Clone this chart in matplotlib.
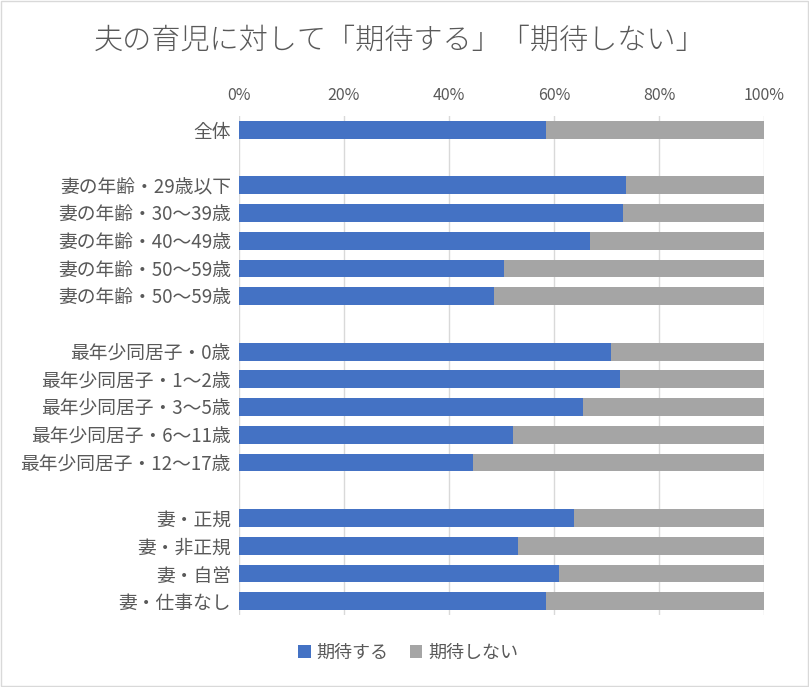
import matplotlib
matplotlib.use("Agg")
import matplotlib.pyplot as plt
import numpy as np

plt.rcParams['font.family'] = ['Noto Sans CJK JP', 'DejaVu Sans']

# カテゴリ (空白行は区切り)
categories = ['全体', '',
              '妻の年齢・29歳以下', '妻の年齢・30～39歳', '妻の年齢・40～49歳',
              '妻の年齢・50～59歳', '妻の年齢・50～59歳', '',
              '最年少同居子・0歳', '最年少同居子・1～2歳', '最年少同居子・3～5歳',
              '最年少同居子・6～11歳', '最年少同居子・12～17歳', '',
              '妻・正規', '妻・非正規', '妻・自営', '妻・仕事なし']
# 期待する (%) / None = 空白行
kitai_suru = [58.5, None,
              73.7, 73.2, 66.8, 50.5, 48.6, None,
              70.9, 72.5, 65.6, 52.2, 44.6, None,
              63.9, 53.2, 60.9, 58.5]
kitai_shinai = [None if v is None else 100 - v for v in kitai_suru]

series_names = ['期待する', '期待しない']
tick_vals = [0, 20, 40, 60, 80, 100]
tick_labels = ['0%', '20%', '40%', '60%', '80%', '100%']

blue = '#4472C4'
gray = '#A5A5A5'
txt = '#595959'

fig = plt.figure(figsize=(8.09, 6.87), dpi=100)
ax = fig.add_axes([239/809, 1-615/687, 525/809, 499/687])

y = np.arange(len(categories))
a = np.array([np.nan if v is None else v for v in kitai_suru])
b = np.array([np.nan if v is None else v for v in kitai_shinai])
ax.barh(y, a, height=0.64, color=blue, label=series_names[0], zorder=3)
ax.barh(y, b, left=a, height=0.64, color=gray, label=series_names[1], zorder=3)

ax.set_xlim(0, 100)
ax.set_ylim(len(categories)-0.5, -0.5)
ax.set_yticks(y)
ax.set_yticklabels(categories, fontsize=13.5, color=txt)
ax.set_xticks(tick_vals)
ax.set_xticklabels(tick_labels, fontsize=11.5, color=txt)
ax.xaxis.tick_top()
ax.tick_params(axis='both', length=0)
ax.tick_params(axis='x', pad=9)
ax.tick_params(axis='y', pad=6)
ax.grid(axis='x', color='#D9D9D9', linewidth=1, zorder=0)
for s in ax.spines.values():
    s.set_visible(False)

fig.text(400/809, 1-40/687, '夫の育児に対して「期待する」「期待しない」',
         ha='center', va='center', fontsize=21, color=txt, fontweight='light')

fig.legend(loc='center', bbox_to_anchor=(408/809, 1-653/687), ncol=2,
           frameon=False, fontsize=13, handlelength=0.7, handleheight=0.7,
           handletextpad=0.3, columnspacing=1.2, labelcolor=txt)

# 枠線
fig.add_artist(plt.Rectangle((0.001, 0.001), 0.998, 0.998, transform=fig.transFigure,
                             fill=False, edgecolor='#D9D9D9', linewidth=1))

fig.savefig('out.png', dpi=100)
